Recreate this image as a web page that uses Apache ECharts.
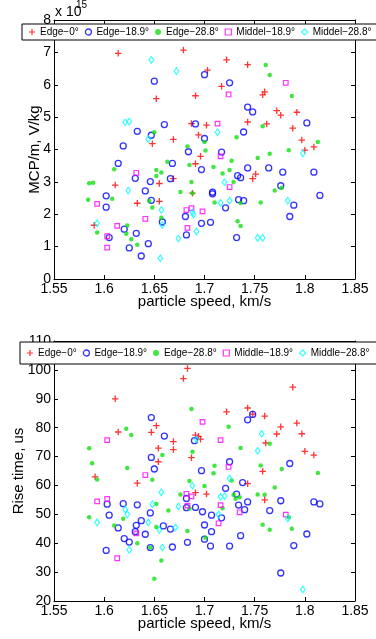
<!DOCTYPE html>
<html><head><meta charset="utf-8">
<script src="https://cdn.jsdelivr.net/npm/echarts@6/dist/echarts.min.js"></script>
<style>html,body{margin:0;padding:0;background:#fff}#c{width:376px;height:639px}</style>
</head><body><div id="c"></div>
<script>
// ---------- DATA ----------
// x: particle speed (km/s); top plot y: MCP/m in units of 1e15 V/kg; bottom plot y: rise time (us)
const xTickLabels = ['1.55','1.6','1.65','1.7','1.75','1.8','1.85'];
const mcpTickLabels = ['0','1','2','3','4','5','6','7','8'];
const riseTickLabels = ['20','30','40','50','60','70','80','90','100','110'];
const mcpScaleLabel = '15'; // x 10^15

const mcpEdge0 = [[1.614,6.97],[1.679,7.07],[1.722,6.77],[1.743,6.62],[1.703,6.45],[1.717,5.95],[1.652,5.57],[1.691,5.66],[1.760,5.78],[1.758,5.69],[1.772,5.20],[1.776,5.06],[1.792,5.15],[1.788,4.66],[1.743,4.85],[1.762,4.79],[1.687,4.80],[1.702,4.75],[1.694,4.45],[1.669,4.31],[1.648,4.18],[1.797,4.29],[1.800,3.98],[1.809,4.08],[1.696,3.79],[1.691,3.56],[1.611,2.90],[1.669,3.10],[1.655,2.95],[1.633,2.34],[1.655,2.40],[1.688,2.65],[1.748,3.10],[1.751,3.24],[1.590,1.66]];
const mcpEdge189 = [[1.650,6.11],[1.700,6.31],[1.725,6.06],[1.743,5.31],[1.748,5.16],[1.691,4.79],[1.660,4.77],[1.633,4.56],[1.647,4.44],[1.700,4.34],[1.739,4.54],[1.802,4.82],[1.619,4.11],[1.684,3.93],[1.717,3.92],[1.614,3.57],[1.668,3.57],[1.697,3.38],[1.743,3.43],[1.764,3.43],[1.733,3.19],[1.736,3.13],[1.631,3.11],[1.666,3.10],[1.646,3.01],[1.778,3.30],[1.809,3.30],[1.602,2.57],[1.602,2.22],[1.641,2.72],[1.708,2.68],[1.708,2.63],[1.647,2.43],[1.734,2.45],[1.739,2.42],[1.776,2.88],[1.789,2.28],[1.815,2.58],[1.721,2.20],[1.658,1.76],[1.681,1.93],[1.697,1.72],[1.706,1.75],[1.785,1.93],[1.620,1.54],[1.632,1.41],[1.605,1.28],[1.625,0.96],[1.644,1.09],[1.637,0.71],[1.682,1.36],[1.732,1.28]];
const mcpEdge288 = [[1.761,6.61],[1.765,6.30],[1.787,5.65],[1.758,4.72],[1.732,4.38],[1.650,4.53],[1.813,4.23],[1.683,4.09],[1.700,4.23],[1.701,3.97],[1.784,3.98],[1.765,3.87],[1.753,3.74],[1.727,3.65],[1.663,3.62],[1.610,3.39],[1.652,3.37],[1.685,3.52],[1.709,3.46],[1.725,3.37],[1.657,3.29],[1.652,3.18],[1.718,3.26],[1.585,2.96],[1.589,2.97],[1.687,3.00],[1.729,3.00],[1.676,2.69],[1.688,2.65],[1.584,2.45],[1.608,2.48],[1.645,2.41],[1.648,2.21],[1.710,2.36],[1.736,2.35],[1.756,2.36],[1.770,2.73],[1.777,2.82],[1.657,1.89],[1.733,1.78],[1.736,1.64],[1.593,1.44],[1.623,1.65],[1.622,1.40],[1.627,1.23],[1.633,1.06]];
const mcpMid189 = [[1.781,6.06],[1.724,5.70],[1.713,4.80],[1.716,3.79],[1.632,3.28],[1.725,2.84],[1.593,2.32],[1.687,2.19],[1.682,2.13],[1.698,2.09],[1.641,1.86],[1.613,1.64],[1.683,1.58],[1.603,1.32],[1.603,0.97]];
const mcpMid288 = [[1.647,6.77],[1.672,6.42],[1.621,4.84],[1.625,4.86],[1.644,4.32],[1.713,4.53],[1.798,3.88],[1.624,2.73],[1.720,2.99],[1.716,2.35],[1.725,2.42],[1.783,2.42],[1.657,2.13],[1.688,2.06],[1.689,1.99],[1.658,1.67],[1.593,1.72],[1.674,1.25],[1.692,1.47],[1.753,1.27],[1.758,1.27],[1.656,0.64]];

const riseEdge0 = [[1.683,100.5],[1.679,97.0],[1.611,90.0],[1.788,94.0],[1.614,78.5],[1.647,78.4],[1.652,80.7],[1.722,85.5],[1.743,86.8],[1.760,84.0],[1.748,84.7],[1.792,81.6],[1.776,80.3],[1.772,77.8],[1.797,77.9],[1.800,71.8],[1.809,70.5],[1.669,75.2],[1.669,72.4],[1.654,72.9],[1.654,68.2],[1.691,77.4],[1.694,77.0],[1.696,76.0],[1.687,69.6],[1.591,63.0],[1.633,60.8],[1.743,60.6],[1.758,64.9],[1.761,74.7],[1.691,57.5],[1.702,57.0],[1.760,55.0]];
const riseEdge189 = [[1.647,83.5],[1.743,82.7],[1.748,84.6],[1.660,77.1],[1.690,75.5],[1.647,69.7],[1.650,65.7],[1.725,68.2],[1.697,65.1],[1.785,67.6],[1.738,61.0],[1.721,59.0],[1.732,57.0],[1.682,55.5],[1.682,52.3],[1.743,54.3],[1.776,54.7],[1.809,54.3],[1.603,53.5],[1.619,53.7],[1.633,53.3],[1.605,49.7],[1.646,50.5],[1.614,45.3],[1.632,46.2],[1.637,47.8],[1.631,44.0],[1.641,43.1],[1.620,41.6],[1.625,40.4],[1.602,37.5],[1.646,38.5],[1.659,46.0],[1.666,44.9],[1.668,38.7],[1.683,40.3],[1.691,52.4],[1.698,50.9],[1.700,46.3],[1.707,49.7],[1.700,41.4],[1.707,44.0],[1.706,39.0],[1.717,48.8],[1.734,53.2],[1.740,51.6],[1.736,42.6],[1.725,39.0],[1.765,51.3],[1.776,29.7],[1.802,43.2],[1.789,39.2],[1.815,53.6]];
const riseEdge288 = [[1.687,86.5],[1.724,80.3],[1.585,72.9],[1.588,67.7],[1.622,79.6],[1.627,77.5],[1.688,71.7],[1.736,73.0],[1.765,74.4],[1.623,66.0],[1.710,66.8],[1.709,64.2],[1.756,66.9],[1.777,65.7],[1.813,64.3],[1.658,70.5],[1.593,62.1],[1.648,62.0],[1.685,61.5],[1.700,59.8],[1.727,61.7],[1.770,59.3],[1.676,56.9],[1.729,56.8],[1.753,56.9],[1.760,56.8],[1.735,55.9],[1.731,55.4],[1.585,49.0],[1.610,46.1],[1.619,48.5],[1.652,53.6],[1.664,51.3],[1.652,45.6],[1.646,38.5],[1.633,40.0],[1.657,34.0],[1.650,27.7],[1.683,44.2],[1.685,52.0],[1.701,41.9],[1.718,52.1],[1.758,46.4],[1.765,44.7],[1.784,49.0],[1.787,45.0]];
const riseMid189 = [[1.698,82.0],[1.716,75.7],[1.603,75.7],[1.724,66.4],[1.641,63.6],[1.682,57.1],[1.687,56.2],[1.593,54.5],[1.603,55.3],[1.632,43.4],[1.613,34.8],[1.683,53.0],[1.716,53.2],[1.735,50.7],[1.714,46.9],[1.781,49.9]];
const riseMid288 = [[1.757,77.9],[1.753,72.0],[1.692,76.0],[1.725,62.4],[1.688,59.9],[1.657,57.6],[1.716,56.1],[1.720,56.3],[1.621,51.7],[1.623,50.0],[1.648,53.5],[1.674,52.7],[1.714,49.9],[1.783,48.6],[1.593,47.2],[1.644,47.2],[1.655,44.6],[1.671,45.4],[1.625,37.7],[1.658,38.5],[1.798,24.0]];

const topNames = ['Edge\u22120\u00b0','Edge\u221218.9\u00b0','Edge\u221228.8\u00b0','Middel\u221218.9\u00b0','Middel\u221228.8\u00b0'];
const botNames = ['Edge\u22120\u00b0','Edge\u221218.9\u00b0','Edge\u221228.8\u00b0','Middle\u221218.9\u00b0','Middle\u221228.8\u00b0'];

// ---------- STYLE ----------
const FONT = '"Liberation Sans", Arial, Helvetica, sans-serif';
const PLUS = 'path://M2.6,0H3.9V2.6H6.5V3.9H3.9V6.5H2.6V3.9H0V2.6H2.6Z';
const markerStyles = [
  {symbol: PLUS, symbolSize: 6.5, itemStyle: {color: '#ff0000', borderWidth: 0}},
  {symbol: 'circle', symbolSize: 6, itemStyle: {color: 'rgba(0,0,0,0)', borderColor: '#0000ff', borderWidth: 1.3}},
  {symbol: 'circle', symbolSize: 4.5, itemStyle: {color: '#11e011', borderWidth: 0}},
  {symbol: 'rect', symbolSize: 4.6, itemStyle: {color: 'rgba(0,0,0,0)', borderColor: '#ff00ff', borderWidth: 1.2}},
  {symbol: 'diamond', symbolSize: [4.6, 6.6], itemStyle: {color: 'rgba(0,0,0,0)', borderColor: '#00ffff', borderWidth: 1.2}}
];
const legendIconSizes = [6, 5.5, 4.5, 5, 5.5];

const xMin = +xTickLabels[0], xMax = +xTickLabels[xTickLabels.length-1];
const xInt = 0.05;

function makeAxes(gi, yLabels, yName, yNameGap) {
  const yMin = +yLabels[0], yMax = +yLabels[yLabels.length-1];
  const yInt = (+yLabels[1]) - yMin;
  const line = {show: true, onZero: false, lineStyle: {color: '#000', width: 1}};
  const tick = {show: true, inside: true, length: 4, lineStyle: {color: '#000'}};
  const lab = {color: '#000', fontSize: 14, fontFamily: FONT, showMinLabel: true, showMaxLabel: true};
  const xs = [
    {gridIndex: gi, type: 'value', min: xMin, max: xMax, interval: xInt, position: 'bottom',
     axisLine: line, axisTick: tick, splitLine: {show: false},
     axisLabel: Object.assign({margin: 3, formatter: v => String(parseFloat(v.toFixed(2)))}, lab),
     name: 'particle speed, km/s', nameLocation: 'middle', nameGap: 15, nameMoveOverlap: false,
     nameTextStyle: {color: '#000', fontSize: 15, fontFamily: FONT}},
    {gridIndex: gi, type: 'value', min: xMin, max: xMax, interval: xInt, position: 'top',
     axisLine: line, axisTick: tick, splitLine: {show: false}, axisLabel: {show: false}}
  ];
  const ys = [
    {gridIndex: gi, type: 'value', min: yMin, max: yMax, interval: yInt, position: 'left',
     axisLine: line, axisTick: tick, splitLine: {show: false},
     axisLabel: Object.assign({margin: 3}, lab),
     name: yName, nameLocation: 'middle', nameGap: yNameGap, nameMoveOverlap: false,
     nameTextStyle: {color: '#000', fontSize: 15, fontFamily: FONT}},
    {gridIndex: gi, type: 'value', min: yMin, max: yMax, interval: yInt, position: 'right',
     axisLine: line, axisTick: tick, splitLine: {show: false}, axisLabel: {show: false}}
  ];
  return {xs, ys};
}

const a0 = makeAxes(0, mcpTickLabels, 'MCP/m, V/kg', 12);
const a1 = makeAxes(1, riseTickLabels, 'Rise time, us', 28);

function mkSeries(names, datas, xi, yi) {
  return datas.map((d, i) => Object.assign({
    type: 'scatter', name: names[i], data: d, xAxisIndex: xi, yAxisIndex: yi,
    z: 2, animation: false, emphasis: {disabled: true}
  }, markerStyles[i]));
}

function legendData(names) {
  return names.map((n, i) => ({
    name: n,
    icon: markerStyles[i].symbol,
    itemStyle: Object.assign({}, markerStyles[i].itemStyle)
  }));
}

function mkLegend(names, left, top, padTB) {
  return {
    data: legendData(names), left: left, top: top, width: 800, orient: 'horizontal',
    itemWidth: 6, itemHeight: 6, itemGap: 6, selectedMode: false,
    padding: [padTB, 30, padTB, 7],
    backgroundColor: '#fff', borderColor: '#000', borderWidth: 1, borderRadius: 0,
    textStyle: {color: '#000', fontSize: 10, fontFamily: FONT}, z: 10
  };
}

const chart = echarts.init(document.getElementById('c'), null, {renderer: 'canvas'});
chart.setOption({
  animation: false,
  backgroundColor: '#fff',
  grid: [
    {left: 54, top: 20, width: 301, height: 259},
    {left: 54, top: 341, width: 301, height: 260}
  ],
  xAxis: a0.xs.concat(a1.xs),
  yAxis: a0.ys.concat(a1.ys),
  legend: [mkLegend(topNames, 22, 24, 3), mkLegend(botNames, 20, 342, 6)],
  graphic: [
    {type: 'text', left: 55, top: 5, z: 20, style: {text: 'x 10', fill: '#000', fontSize: 14, fontFamily: FONT}},
    {type: 'text', left: 76, top: 0, z: 20, style: {text: mcpScaleLabel, fill: '#000', fontSize: 10, fontFamily: FONT}}
  ],
  series: mkSeries(topNames, [mcpEdge0, mcpEdge189, mcpEdge288, mcpMid189, mcpMid288], 0, 0)
    .concat(mkSeries(botNames, [riseEdge0, riseEdge189, riseEdge288, riseMid189, riseMid288], 2, 2))
});
</script></body></html>
